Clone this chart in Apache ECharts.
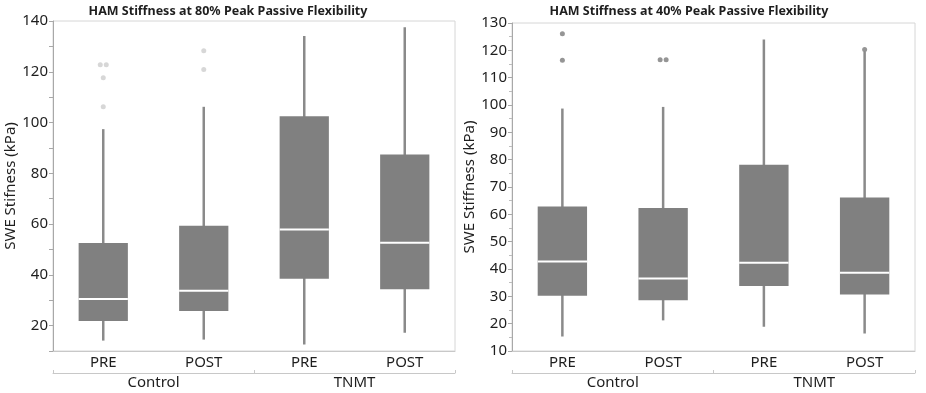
<!DOCTYPE html>
<html>
<head>
<meta charset="utf-8">
<script src="https://cdn.jsdelivr.net/npm/echarts@6/dist/echarts.min.js"></script>
<style>
  html, body { margin: 0; padding: 0; background: #ffffff; }
  #chart { width: 926px; height: 393px; }
</style>
</head>
<body>
<div id="chart"></div>
<script>
// ---- data ----
const categories = ['PRE', 'POST', 'PRE', 'POST'];
const groups = ['Control', 'TNMT'];

const titles = ['HAM Stiffness at 80% Peak Passive Flexibility', 'HAM Stiffness at 40% Peak Passive Flexibility'];
const yNames = ['SWE Stifness (kPa)', 'SWE Stiffness (kPa)'];

const stiff80Min    = [14.1, 14.5, 12.6, 17.2];
const stiff80Q1     = [21.8, 25.8, 38.5, 34.3];
const stiff80Median = [30.5, 33.7, 57.9, 52.6];
const stiff80Q3     = [52.5, 59.3, 102.5, 87.4];
const stiff80Max    = [97.4, 106.2, 134.1, 137.5];
const stiff80Outliers = [[0, 122.8], [0, 122.8], [0, 117.6], [0, 106.2], [1, 128.3], [1, 120.9]];

const stiff40Min    = [15.3, 21.2, 18.9, 16.4];
const stiff40Q1     = [30.2, 28.6, 33.8, 30.7];
const stiff40Median = [42.7, 36.5, 42.3, 38.6];
const stiff40Q3     = [62.9, 62.3, 78.1, 66.2];
const stiff40Max    = [98.7, 99.3, 124.0, 119.6];
const stiff40Outliers = [[0, 126.1], [0, 116.4], [1, 116.6], [1, 116.6], [3, 120.3]];

const yTicks80 = [10, 140, 10];  // min, max, step
const yTicks40 = [10, 130, 10];

// ---- build ----
function boxData(mn, q1, md, q3, mx) {
  return categories.map((c, i) => [i, mn[i], q1[i], md[i], q3[i], mx[i]]);
}
function outlierData(list) {
  // spread duplicated points side by side
  const seen = {};
  list.forEach(p => { const k = p[0] + '_' + p[1]; seen[k] = (seen[k] || 0) + 1; });
  const used = {};
  return list.map(p => {
    const k = p[0] + '_' + p[1];
    const n = seen[k];
    const idx = used[k] = (used[k] || 0) + 1;
    const off = n > 1 ? (idx - (n + 1) / 2) * 6 : 0;
    return { value: [p[0], p[1]], symbolOffset: [off, 0] };
  });
}

const TXT = '#1e1e1e';
const FONT = 'Noto Sans';
const AXIS = '#c8c8c8';

function renderBox(params, api) {
  const x = api.value(0);
  const pMin = api.coord([x, api.value(1)]);
  const pQ1 = api.coord([x, api.value(2)]);
  const pMed = api.coord([x, api.value(3)]);
  const pQ3 = api.coord([x, api.value(4)]);
  const pMax = api.coord([x, api.value(5)]);
  const w = api.size([1, 0])[0] * 0.49;
  const cx = pMed[0];
  return {
    type: 'group',
    children: [
      { type: 'line', shape: { x1: cx, y1: pMin[1], x2: cx, y2: pMax[1] },
        style: { stroke: '#8a8a8a', lineWidth: 2.5 } },
      { type: 'rect', shape: { x: cx - w / 2, y: pQ3[1], width: w, height: pQ1[1] - pQ3[1] },
        style: { fill: '#808080', stroke: null } },
      { type: 'line', shape: { x1: cx - w / 2, y1: pMed[1], x2: cx + w / 2, y2: pMed[1] },
        style: { stroke: '#ffffff', lineWidth: 2 } }
    ]
  };
}

function yAxisCfg(gi, ticks, name, majorEvery) {
  return {
    type: 'value', gridIndex: gi, min: ticks[0], max: ticks[1], interval: ticks[2],
    name: name, nameLocation: 'middle', nameGap: 35, nameRotate: 90,
    nameTextStyle: { color: TXT, fontSize: 15, fontFamily: FONT },
    axisLine: { show: true, lineStyle: { color: '#a8a8a8', width: 1 } },
    axisTick: { show: true, length: 4, lineStyle: { color: '#a8a8a8' } },
    minorTick: { show: majorEvery === 1, splitNumber: 2, length: 3, lineStyle: { color: '#bdbdbd' } },
    splitLine: { show: false },
    axisLabel: {
      color: TXT, fontSize: 15, fontFamily: FONT, margin: 5,
      formatter: v => (Math.round(v / ticks[2]) % majorEvery === 0 ? String(v) : '')
    }
  };
}
function xAxisCfg(gi) {
  return {
    type: 'category', gridIndex: gi, data: categories, boundaryGap: true,
    axisLine: { show: true, lineStyle: { color: AXIS } },
    axisTick: { show: false },
    axisLabel: { color: TXT, fontSize: 15, fontFamily: FONT, margin: 4 }
  };
}
function xGroupCfg(gi) {
  return {
    type: 'category', gridIndex: gi, data: groups, boundaryGap: true, position: 'bottom', offset: 22,
    axisLine: { show: true, lineStyle: { color: AXIS } },
    axisTick: { show: true, inside: true, length: 3, lineStyle: { color: AXIS } },
    axisLabel: { color: TXT, fontSize: 15, fontFamily: FONT, margin: 2 }
  };
}

const grids = [
  { left: 53, top: 21, width: 402, height: 330 },
  { left: 512, top: 23, width: 403, height: 328 }
];

const option = {
  animation: false,
  backgroundColor: '#ffffff',
  title: [
    { text: titles[0], left: 228, top: 5, padding: 0, textAlign: 'center',
      textStyle: { fontSize: 12.5, fontWeight: 'bold', color: TXT, fontFamily: FONT } },
    { text: titles[1], left: 689, top: 5, padding: 0, textAlign: 'center',
      textStyle: { fontSize: 12.5, fontWeight: 'bold', color: TXT, fontFamily: FONT } }
  ],
  grid: grids.map(g => Object.assign({ show: true, borderColor: '#d6d6d6', borderWidth: 1, backgroundColor: '#ffffff' }, g)),
  xAxis: [xAxisCfg(0), xGroupCfg(0), xAxisCfg(1), xGroupCfg(1)],
  yAxis: [yAxisCfg(0, yTicks80, yNames[0], 2), yAxisCfg(1, yTicks40, yNames[1], 1)],
  series: [
    { type: 'custom', xAxisIndex: 0, yAxisIndex: 0, renderItem: renderBox,
      encode: { x: 0, y: [1, 2, 3, 4, 5] },
      data: boxData(stiff80Min, stiff80Q1, stiff80Median, stiff80Q3, stiff80Max) },
    { type: 'scatter', xAxisIndex: 0, yAxisIndex: 0, symbolSize: 5,
      itemStyle: { color: '#cdcdcd' }, data: outlierData(stiff80Outliers) },
    { type: 'custom', xAxisIndex: 2, yAxisIndex: 1, renderItem: renderBox,
      encode: { x: 0, y: [1, 2, 3, 4, 5] },
      data: boxData(stiff40Min, stiff40Q1, stiff40Median, stiff40Q3, stiff40Max) },
    { type: 'scatter', xAxisIndex: 2, yAxisIndex: 1, symbolSize: 5,
      itemStyle: { color: '#7a7a7a' }, data: outlierData(stiff40Outliers) }
  ]
};

const chart = echarts.init(document.getElementById('chart'), null, { renderer: 'canvas' });
chart.setOption(option);
</script>
</body>
</html>
